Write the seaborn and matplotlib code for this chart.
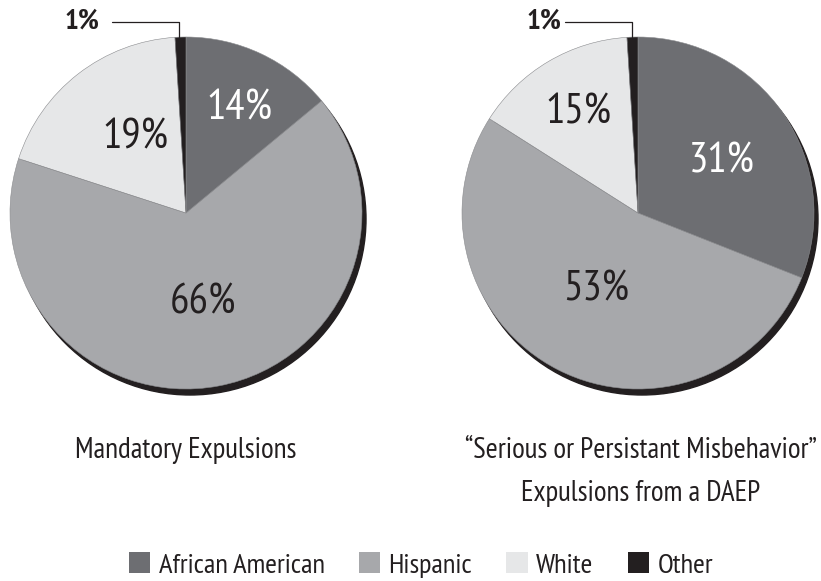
import matplotlib
matplotlib.use("Agg")
import matplotlib.pyplot as plt
from matplotlib.patches import Circle, Patch
import seaborn as sns

groups = ["African American", "Hispanic", "White", "Other"]
mandatory = [14, 66, 19, 1]
serious = [31, 53, 15, 1]
colors = ["#6d6e72", "#a7a8ab", "#e6e7e8", "#231f20"]
label_colors = ["white", "#231f20", "#231f20"]

sns.set_theme(style="white")
plt.rcParams["font.family"] = ["PT Sans Narrow", "Roboto Condensed", "DejaVu Sans"]

fig = plt.figure(figsize=(8.21, 5.81), dpi=100)
ax = fig.add_axes([0, 0, 1, 1])

H = 581
R = 176
pies = [
    # values, center, slice label spots, title, "1%" spot, leader x range
    (mandatory, (186, 213), [(239, 109), (203, 303), (135, 138)],
     "Mandatory Expulsions", 186, (82, 22), (112, 179)),
    (serious, (638, 213), [(722, 162), (596, 290), (578, 113)],
     "\u201cSerious or Persistant Misbehavior\u201d\nExpulsions from a DAEP", 641,
     (544, 22), (565, 632)),
]

for vals, (cx, cy), lpos, title, tx, one_pos, (x0, x1) in pies:
    cy_d = H - cy
    # drop shadow
    ax.add_patch(Circle((cx + 4, cy_d - 6), R, color="#231f20", zorder=1))
    ax.pie(vals, colors=colors, startangle=90, counterclock=False,
           center=(cx, cy_d), radius=R, frame=True,
           wedgeprops=dict(linewidth=0.4, edgecolor="#8a8b8e", zorder=2))
    for v, (lx, ly), c in zip(vals[:3], lpos, label_colors):
        ax.text(lx, H - ly, f"{v}%", ha="center", va="center",
                fontsize=31, color=c, zorder=5)
    ox, oy = one_pos
    ax.text(ox, H - oy, f"{vals[3]}%", ha="center", va="center",
            fontsize=21, fontweight="bold", color="#231f20")
    ax.plot([x0, x1, x1], [H - oy, H - oy, H - 40],
            color="#231f20", lw=0.9, zorder=6)
    ax.text(tx, H - 437, title, ha="center", va="top",
            fontsize=21, color="#231f20", linespacing=1.75)

ax.set_xlim(0, 821)
ax.set_ylim(0, H)
ax.set_aspect("equal")
ax.axis("off")

handles = [Patch(facecolor=c, edgecolor="none") for c in colors]
fig.legend(handles, groups, loc="center", bbox_to_anchor=(421 / 821, 1 - 565 / H),
           ncol=4, frameon=False, fontsize=20.5, handlelength=0.75, handleheight=0.75,
           handletextpad=0.3, columnspacing=1.2, labelcolor="#231f20")

fig.savefig("out.png", dpi=100)
